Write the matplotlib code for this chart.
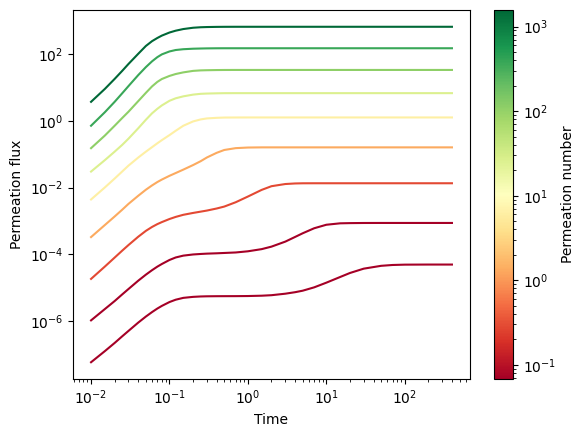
import numpy as np
import matplotlib
matplotlib.use("Agg")
import matplotlib.pyplot as plt
from matplotlib.colors import LogNorm
from matplotlib.cm import ScalarMappable

# time samples
time = [0.01, 0.015, 0.02, 0.025, 0.03, 0.04, 0.05, 0.06, 0.07, 0.08,
        0.1, 0.12, 0.15, 0.2, 0.25, 0.3, 0.4, 0.5, 0.7, 1,
        1.5, 2, 3, 4, 5, 7, 10, 15, 20, 30,
        50, 70, 100, 200, 400]

# permeation number of each curve, lowest first
permeation_numbers = [0.016, 0.068, 0.29, 1.3, 6.0, 26, 110, 374, 1570]

# log10 of the permeation flux, one list per curve (same order)
log_flux_1 = [-7.233, -6.900, -6.655, -6.455, -6.295, -6.045, -5.865, -5.730, -5.625, -5.545,
              -5.430, -5.360, -5.305, -5.275, -5.263, -5.258, -5.255, -5.254, -5.253, -5.250,
              -5.240, -5.225, -5.180, -5.135, -5.090, -4.990, -4.850, -4.680, -4.560, -4.430,
              -4.345, -4.320, -4.310, -4.307, -4.307]
log_flux_2 = [-5.979, -5.640, -5.400, -5.200, -5.040, -4.790, -4.610, -4.475, -4.370, -4.290,
              -4.170, -4.095, -4.040, -4.005, -3.990, -3.980, -3.970, -3.960, -3.945, -3.910,
              -3.845, -3.770, -3.620, -3.480, -3.370, -3.220, -3.115, -3.072, -3.066, -3.062,
              -3.061, -3.061, -3.061, -3.061, -3.061]
log_flux_3 = [-4.737, -4.367, -4.098, -3.889, -3.723, -3.473, -3.298, -3.180, -3.096, -3.035,
              -2.943, -2.880, -2.817, -2.761, -2.722, -2.690, -2.628, -2.570, -2.440, -2.270,
              -2.070, -1.960, -1.895, -1.878, -1.873, -1.872, -1.872, -1.872, -1.872, -1.872,
              -1.872, -1.872, -1.872, -1.872, -1.872]
log_flux_4 = [-3.484, -3.123, -2.867, -2.663, -2.490, -2.246, -2.066, -1.936, -1.836, -1.761,
              -1.649, -1.566, -1.464, -1.327, -1.211, -1.100, -0.960, -0.875, -0.820, -0.802,
              -0.797, -0.797, -0.797, -0.797, -0.797, -0.797, -0.797, -0.797, -0.797, -0.797,
              -0.797, -0.797, -0.797, -0.797, -0.797]
log_flux_5 = [-2.358, -1.997, -1.731, -1.518, -1.344, -1.101, -0.926, -0.790, -0.675, -0.580,
              -0.430, -0.300, -0.150, -0.020, 0.040, 0.070, 0.088, 0.096, 0.098, 0.099,
              0.099, 0.099, 0.099, 0.099, 0.099, 0.099, 0.099, 0.099, 0.099, 0.099,
              0.099, 0.099, 0.099, 0.099, 0.099]
log_flux_6 = [-1.522, -1.179, -0.925, -0.721, -0.537, -0.224, 0.030, 0.224, 0.358, 0.460,
              0.598, 0.673, 0.731, 0.783, 0.807, 0.815, 0.822, 0.826, 0.827, 0.827,
              0.827, 0.827, 0.827, 0.827, 0.827, 0.827, 0.827, 0.827, 0.827, 0.827,
              0.827, 0.827, 0.827, 0.827, 0.827]
log_flux_7 = [-0.821, -0.443, -0.149, 0.084, 0.270, 0.589, 0.836, 1.030, 1.164, 1.251,
              1.343, 1.400, 1.449, 1.494, 1.509, 1.514, 1.519, 1.521, 1.522, 1.522,
              1.522, 1.522, 1.522, 1.522, 1.522, 1.522, 1.522, 1.522, 1.522, 1.522,
              1.522, 1.522, 1.522, 1.522, 1.522]
log_flux_8 = [-0.149, 0.256, 0.568, 0.825, 1.038, 1.369, 1.607, 1.781, 1.905, 1.989,
              2.076, 2.119, 2.143, 2.158, 2.164, 2.168, 2.171, 2.172, 2.172, 2.172,
              2.172, 2.172, 2.172, 2.172, 2.172, 2.172, 2.172, 2.172, 2.172, 2.172,
              2.172, 2.172, 2.172, 2.172, 2.172]
log_flux_9 = [0.567, 0.954, 1.254, 1.496, 1.701, 2.007, 2.240, 2.385, 2.479, 2.551,
              2.643, 2.698, 2.747, 2.786, 2.801, 2.807, 2.812, 2.814, 2.815, 2.815,
              2.815, 2.815, 2.815, 2.815, 2.815, 2.815, 2.815, 2.815, 2.815, 2.815,
              2.815, 2.815, 2.815, 2.815, 2.815]

curves = [log_flux_1, log_flux_2, log_flux_3, log_flux_4, log_flux_5,
          log_flux_6, log_flux_7, log_flux_8, log_flux_9]


def main():
    fig = plt.figure(figsize=(5.85, 4.37), dpi=100)
    ax = fig.add_axes([0.1248, 0.1327, 0.6786, 0.8444])
    cax = fig.add_axes([0.8444, 0.1327, 0.0325, 0.8444])

    cmap = plt.get_cmap("RdYlGn")
    norm = LogNorm(vmin=permeation_numbers[1], vmax=permeation_numbers[-1])

    for pe, log_flux in zip(permeation_numbers, curves):
        ax.plot(time, 10 ** np.array(log_flux), color=cmap(norm(pe)), linewidth=1.5)

    ax.set_xscale("log")
    ax.set_yscale("log")
    ax.set_xlabel("Time")
    ax.set_ylabel("Permeation flux")

    sm = ScalarMappable(norm=norm, cmap=cmap)
    fig.colorbar(sm, cax=cax, label="Permeation number")

    fig.savefig("out.png", dpi=100)
    plt.close(fig)


if __name__ == "__main__":
    main()
